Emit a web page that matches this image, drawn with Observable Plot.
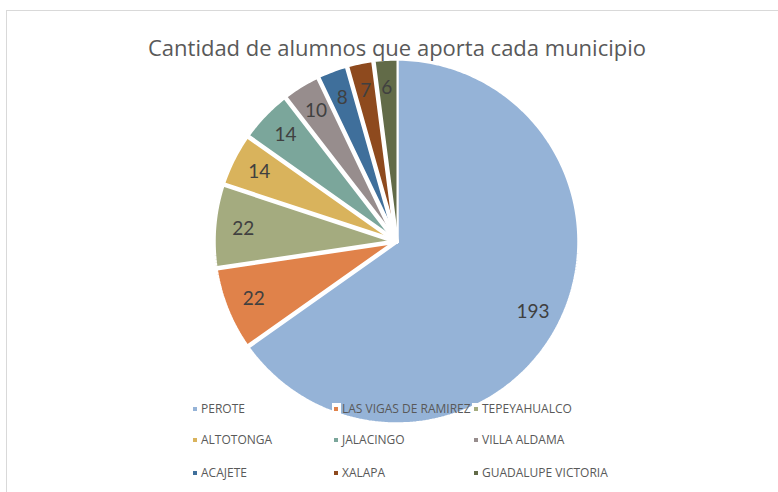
<!DOCTYPE html>
<html>
<head>
<meta charset="utf-8">
<script src="https://cdn.jsdelivr.net/npm/d3@7"></script>
<script src="https://cdn.jsdelivr.net/npm/@observablehq/plot@0.6"></script>
<style>
  body { margin: 0; background: #fff; }
  #wrap { position: relative; width: 778px; height: 492px; overflow: hidden; background: #fff; font-family: "Open Sans", Lato, sans-serif; }
  #frame { position: absolute; left: 6px; top: 10px; width: 820px; height: 520px; border: 1px solid #d9d9d9; box-sizing: border-box; }
  #title { position: absolute; left: 0; width: 794px; top: 33px; text-align: center; font-size: 22px; color: #595959; white-space: nowrap; line-height: 28px; }
  #chart { position: absolute; left: 0; top: 0; }
  .leg { position: absolute; font-size: 12px; color: #595959; white-space: nowrap; line-height: 14px; }
  .leg .box { display: inline-block; width: 9px; height: 12px; background: #fff; vertical-align: middle; position: relative; margin-right: 1px; }
  .leg .sw { position: absolute; left: 2px; top: 4px; width: 4px; height: 4px; }
  .leg span.t { vertical-align: middle; }
</style>
</head>
<body>
<div id="wrap">
  <div id="frame"></div>
  <div id="chart"></div>
  <div id="title">Cantidad de alumnos que aporta cada municipio</div>
  <div id="legend"></div>
</div>
<script>
const municipios = ["PEROTE", "LAS VIGAS DE RAMIREZ", "TEPEYAHUALCO", "ALTOTONGA", "JALACINGO", "VILLA ALDAMA", "ACAJETE", "XALAPA", "GUADALUPE VICTORIA"];
const alumnos = [193, 22, 22, 14, 14, 10, 8, 7, 6];
const colores = ["#95B3D7", "#E0824A", "#A4AB7F", "#D9B35C", "#7BA69B", "#978D8D", "#3F6F9B", "#8E4A1E", "#626B48"];

const cx = 396, cy = 241, r = 183;

const pie = d3.pie().sort(null).value(d => d.v)(municipios.map((m, i) => ({name: m, v: alumnos[i]})));

const rows = [];
for (const s of pie) {
  rows.push({name: s.data.name, x: 0, y: 0});
  const n = Math.max(2, Math.ceil((s.endAngle - s.startAngle) / (Math.PI / 180)));
  for (let k = 0; k <= n; k++) {
    const a = s.startAngle + (s.endAngle - s.startAngle) * k / n;
    rows.push({name: s.data.name, x: Math.sin(a), y: Math.cos(a)});
  }
}
const labels = pie.map(s => {
  const a = (s.startAngle + s.endAngle) / 2;
  return {name: s.data.name, v: s.data.v, x: 0.84 * Math.sin(a), y: 0.84 * Math.cos(a)};
});

const plot = Plot.plot({
  width: 778,
  height: 492,
  margin: 0,
  x: {domain: [-1, 1], range: [cx - r, cx + r], axis: null},
  y: {domain: [-1, 1], range: [cy + r, cy - r], axis: null},
  color: {domain: municipios, range: colores},
  style: {background: "transparent", overflow: "visible"},
  marks: [
    Plot.line(rows, {x: "x", y: "y", z: "name", fill: "name", stroke: "white", strokeWidth: 4.5, strokeLinejoin: "miter", curve: "linear"}),
    Plot.text(labels, {x: "x", y: "y", text: "v", fill: "#404040", fontSize: 19, fontFamily: "Lato, 'Open Sans', sans-serif"})
  ]
});
document.getElementById("chart").appendChild(plot);

// legend
const colX = [191, 332, 472];
const rowY = [401, 432, 465];
const leg = document.getElementById("legend");
municipios.forEach((m, i) => {
  const d = document.createElement("div");
  d.className = "leg";
  d.style.left = colX[i % 3] + "px";
  d.style.top = rowY[Math.floor(i / 3)] + "px";
  d.innerHTML = `<span class="box"><span class="sw" style="background:${colores[i]}"></span></span><span class="t">${m}</span>`;
  leg.appendChild(d);
});
</script>
</body>
</html>
